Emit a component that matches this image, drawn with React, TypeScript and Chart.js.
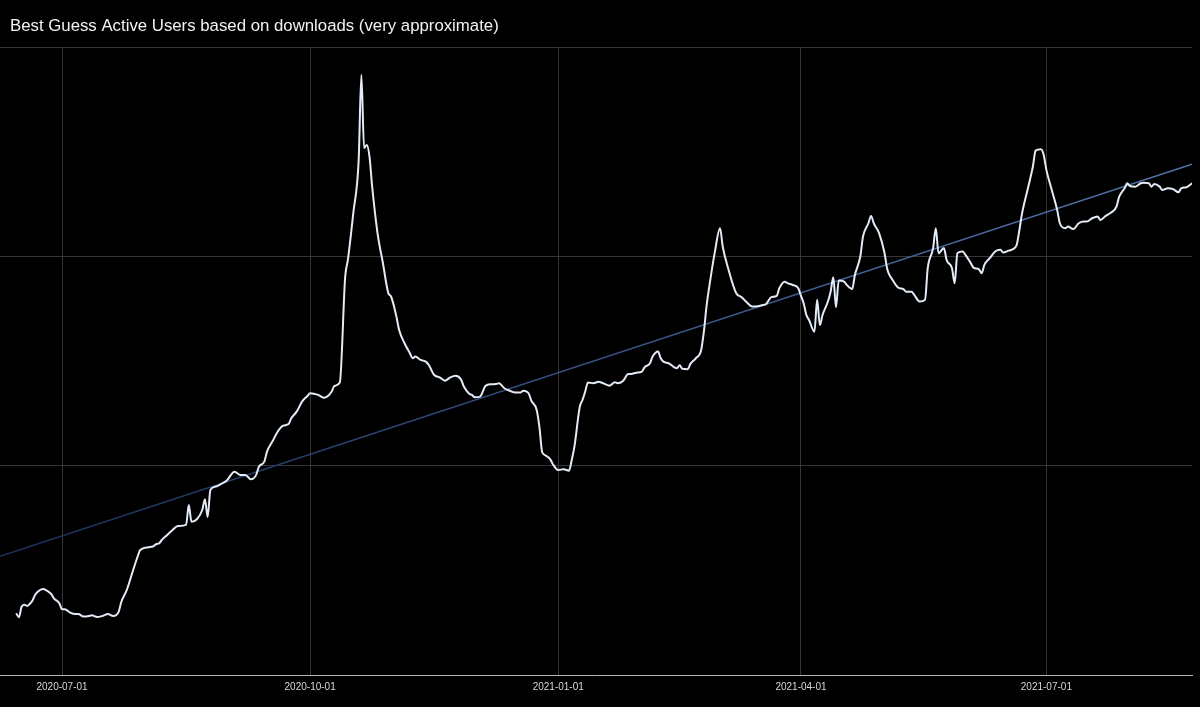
import { useEffect, useRef } from 'react';
import Chart from 'chart.js/auto';

// x = days counted from 2020-07-01, y = estimated active users (arbitrary units)
const dayOffsets = [
  -17, -16, -15, -14, -13, -12, -11, -10, -9, -7, -6, -4, -3, -1, 0, 1, 3, 5, 6, 8,
  10, 11, 13, 15, 17, 19, 21, 22, 24, 26, 28, 29, 32, 34, 35, 36, 37, 39, 41, 43,
  46, 47, 48, 50, 52, 53, 54, 55, 57, 59, 61, 64, 66, 68, 70, 72, 73, 75, 76, 78,
  80, 82, 84, 85, 87, 89, 91, 92, 95, 97, 98, 100, 101, 103, 105, 106, 108, 110, 111, 112,
  113, 114, 115, 117, 119, 121, 122, 124, 125, 127, 129, 130, 131, 133, 135, 136, 138, 140, 142, 144,
  146, 148, 149, 151, 152, 153, 155, 157, 159, 161, 162, 164, 166, 168, 170, 171, 173, 174, 176, 177,
  178, 179, 181, 182, 184, 186, 188, 189, 190, 192, 193, 194, 195, 197, 199, 200, 202, 203, 205, 206,
  208, 210, 211, 213, 215, 216, 218, 219, 221, 222, 223, 225, 227, 228, 229, 230, 232, 233, 235, 237,
  238, 239, 240, 242, 244, 245, 247, 250, 252, 254, 256, 258, 260, 261, 263, 265, 266, 268, 269, 271,
  273, 274, 275, 276, 277, 279, 280, 281, 282, 284, 285, 286, 287, 288, 290, 291, 293, 294, 296, 297,
  299, 300, 301, 303, 305, 306, 308, 310, 312, 313, 315, 316, 318, 320, 321, 323, 324, 325, 327, 328,
  330, 331, 332, 334, 335, 337, 338, 340, 341, 342, 344, 346, 348, 349, 351, 353, 354, 355, 356, 358,
  360, 361, 363, 364, 365, 367, 369, 370, 372, 373, 375, 377, 379, 380, 382, 384, 385, 387, 389, 391,
  392, 394, 395, 396, 398, 400, 401, 403, 404, 405, 407, 408, 410, 412, 414, 415, 417, 419,
];

const activeUsers = [
  295, 276, 326, 336, 330, 339, 355, 382, 398, 411, 406, 387, 366, 343, 314, 314, 298, 291, 291, 279,
  282, 285, 277, 282, 291, 282, 302, 350, 406, 486, 565, 597, 610, 616, 626, 629, 645, 669, 693, 712,
  717, 812, 732, 744, 788, 840, 755, 884, 900, 913, 928, 971, 956, 956, 935, 956, 995, 1019, 1067, 1115,
  1163, 1191, 1199, 1226, 1258, 1306, 1333, 1346, 1338, 1325, 1327, 1354, 1381, 1397, 1903, 1983, 2206, 2461, 2867, 2517,
  2532, 2477, 2333, 2110, 1967, 1824, 1808, 1712, 1648, 1585, 1537, 1513, 1521, 1505, 1496, 1481, 1433, 1422, 1406, 1422,
  1429, 1410, 1378, 1343, 1338, 1327, 1330, 1381, 1389, 1390, 1394, 1370, 1358, 1349, 1349, 1358, 1346, 1311, 1266, 1186,
  1067, 1051, 1031, 1007, 979, 983, 976, 1027, 1091, 1282, 1314, 1354, 1397, 1394, 1401, 1397, 1386, 1382, 1399, 1394,
  1405, 1438, 1438, 1444, 1449, 1470, 1489, 1521, 1545, 1513, 1497, 1489, 1470, 1465, 1480, 1463, 1461, 1486, 1513, 1553,
  1640, 1763, 1855, 2015, 2134, 2046, 1943, 1824, 1805, 1779, 1760, 1762, 1768, 1771, 1805, 1811, 1848, 1879, 1872, 1863,
  1848, 1811, 1776, 1720, 1696, 1640, 1792, 1672, 1720, 1784, 1831, 1900, 1757, 1884, 1879, 1863, 1844, 1911, 1999, 2094,
  2158, 2193, 2158, 2110, 2015, 1938, 1887, 1851, 1843, 1831, 1831, 1816, 1784, 1792, 1943, 2039, 2134, 2015, 2040, 1983,
  1943, 1872, 2015, 2023, 2007, 1967, 1946, 1938, 1919, 1959, 1991, 2023, 2031, 2018, 2027, 2037, 2055, 2126, 2206, 2317,
  2429, 2505, 2512, 2485, 2413, 2317, 2222, 2158, 2134, 2142, 2130, 2158, 2166, 2166, 2182, 2190, 2174, 2193, 2209, 2238,
  2285, 2325, 2349, 2336, 2333, 2349, 2352, 2349, 2333, 2346, 2333, 2317, 2325, 2321, 2306, 2325, 2330, 2349,
];

// straight trend line, start and end
const trendDays = [-23, 419];
const trendUsers = [567, 2440];

const tickDays = [0, 92, 184, 274, 365];
const tickLabels = ['2020-07-01', '2020-10-01', '2021-01-01', '2021-04-01', '2021-07-01'];
const yTicks = [0, 1000, 2000, 3000];

const TITLE = 'Best Guess Active Users based on downloads (very approximate)';
const FONT = '"Liberation Sans", Arial, Helvetica, sans-serif';

const titlePlugin = {
  id: 'leftTitle',
  afterDraw(chart: Chart) {
    const { ctx } = chart;
    ctx.save();
    ctx.font = `16.8px ${FONT}`;
    ctx.fillStyle = '#f2f2f2';
    ctx.textBaseline = 'alphabetic';
    ctx.textAlign = 'left';
    ctx.fillText(TITLE, 10, 31);
    ctx.restore();
  },
};

const ActiveUsersChart = () => {
  const chartRef = useRef<HTMLCanvasElement | null>(null);
  const chartInstance = useRef<Chart | null>(null);

  useEffect(() => {
    if (!chartRef.current) return;
    if (chartInstance.current) chartInstance.current.destroy();

    chartInstance.current = new Chart(chartRef.current, {
      type: 'line',
      data: {
        datasets: [
          {
            label: 'Active users',
            data: dayOffsets.map((d, i) => ({ x: d, y: activeUsers[i] })),
            borderColor: '#e3ebf7',
            borderWidth: 2,
            pointRadius: 0,
            cubicInterpolationMode: 'monotone',
            fill: false,
          },
          {
            label: 'Trend',
            data: trendDays.map((d, i) => ({ x: d, y: trendUsers[i] })),
            borderColor: (ctx: any) => {
              const area = ctx.chart.chartArea;
              if (!area) return '#3b5a90';
              const g = ctx.chart.ctx.createLinearGradient(area.left, 0, area.right, 0);
              g.addColorStop(0, '#1c2f5c');
              g.addColorStop(1, '#5375ad');
              return g;
            },
            borderWidth: 1.5,
            pointRadius: 0,
            fill: false,
          },
        ],
      },
      options: {
        responsive: false,
        animation: false,
        layout: { padding: { top: 47, left: 0, right: 8, bottom: 8 } },
        plugins: {
          legend: { display: false },
          title: { display: false },
          tooltip: { enabled: false },
        },
        scales: {
          x: {
            type: 'linear',
            min: trendDays[0],
            max: trendDays[1],
            afterBuildTicks: (scale: any) => {
              scale.ticks = tickDays.map((v) => ({ value: v }));
            },
            ticks: {
              color: '#d8d8d8',
              font: { size: 10, family: FONT },
              padding: 6,
              maxRotation: 0,
              autoSkip: false,
              callback: (value: any) => {
                const i = tickDays.indexOf(Number(value));
                return i >= 0 ? tickLabels[i] : '';
              },
            },
            grid: { color: '#363636', drawTicks: false },
            border: { color: '#b5b5b5', width: 1 },
          },
          y: {
            min: yTicks[0],
            max: yTicks[yTicks.length - 1],
            afterBuildTicks: (scale: any) => {
              scale.ticks = yTicks.map((v) => ({ value: v }));
            },
            ticks: { display: false },
            grid: { color: '#363636', drawTicks: false },
            border: { display: false },
          },
        },
      },
      plugins: [titlePlugin],
    });
    return () => {
      chartInstance.current?.destroy();
      chartInstance.current = null;
    };
  }, []);

  return <canvas ref={chartRef} width={1200} height={707} style={{ display: 'block' }} />;
};

export default function App() {
  useEffect(() => {
    document.body.style.margin = '0';
    document.body.style.background = '#000';
  }, []);

  return (
    <div style={{ width: 1200, height: 707, background: '#000' }}>
      <ActiveUsersChart />
    </div>
  );
}
